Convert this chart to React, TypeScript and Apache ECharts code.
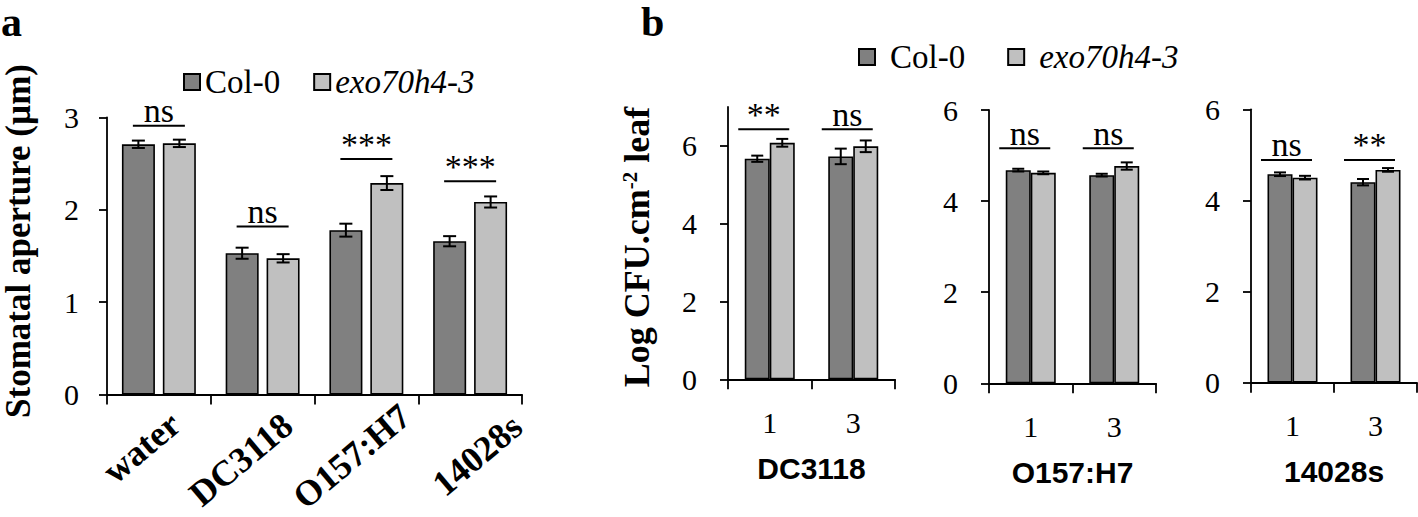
import React, { useEffect, useRef } from 'react';
import * as echarts from 'echarts';

// ---------- data ----------
const seriesNames = ['Col-0', 'exo70h4-3'];

// panel a
const categoriesA = ['water', 'DC3118', 'O157:H7', '14028s'];
const colA = [2.71, 1.53, 1.78, 1.66];
const colAErr = [0.04, 0.06, 0.07, 0.055];
const exoA = [2.72, 1.475, 2.29, 2.085];
const exoAErr = [0.04, 0.045, 0.075, 0.06];
const sigALabels = ['ns', 'ns', '***', '***'];
const sigALevels = [2.91, 1.82, 2.55, 2.31];
const ticksA = [0, 1, 2, 3];

// panel b
const days = ['1', '3'];
const strains = ['DC3118', 'O157:H7', '14028s'];
const ticksB = [0, 2, 4, 6];
const yMaxB = [7, 6, 6];

const colDC3118 = [5.67, 5.73];
const colDC3118Err = [0.08, 0.2];
const exoDC3118 = [6.08, 5.99];
const exoDC3118Err = [0.1, 0.15];
const sigDC3118 = ['**', 'ns'];
const sigDC3118Levels = [6.43, 6.43];

const colO157 = [4.68, 4.57];
const colO157Err = [0.03, 0.03];
const exoO157 = [4.62, 4.77];
const exoO157Err = [0.03, 0.08];
const sigO157 = ['ns', 'ns'];
const sigO157Levels = [5.16, 5.16];

const col14028s = [4.575, 4.4];
const col14028sErr = [0.04, 0.07];
const exo14028s = [4.5, 4.67];
const exo14028sErr = [0.04, 0.04];
const sig14028s = ['ns', '**'];
const sig14028sLevels = [4.89, 4.89];

const colB = [colDC3118, colO157, col14028s];
const colBErr = [colDC3118Err, colO157Err, col14028sErr];
const exoB = [exoDC3118, exoO157, exo14028s];
const exoBErr = [exoDC3118Err, exoO157Err, exo14028sErr];
const sigB = [sigDC3118, sigO157, sig14028s];
const sigBLevels = [sigDC3118Levels, sigO157Levels, sig14028sLevels];

// ---------- styles ----------
const SERIF = 'Liberation Serif';
const SANS = 'Liberation Sans';
const DARK = '#808080';
const LIGHT = '#c0c0c0';

function errRender(offset: number, cap: number) {
  return (params: any, api: any) => {
    const i = api.value(0);
    const v = api.value(1);
    const e = api.value(2);
    const top = api.coord([i, v + e]);
    const bot = api.coord([i, v - e]);
    const x = top[0] + offset;
    const style = { stroke: '#000', lineWidth: 2, fill: null };
    return {
      type: 'group',
      children: [
        { type: 'line', shape: { x1: x, y1: top[1], x2: x, y2: bot[1] }, style },
        { type: 'line', shape: { x1: x - cap / 2, y1: top[1], x2: x + cap / 2, y2: top[1] }, style },
        { type: 'line', shape: { x1: x - cap / 2, y1: bot[1], x2: x + cap / 2, y2: bot[1] }, style },
      ],
    };
  };
}

function sigRender(labels: string[], halfWidth: number, shift: number, fontSize: number) {
  return (params: any, api: any) => {
    const p = api.coord([api.value(0), api.value(1)]);
    const cx = p[0] + shift;
    return {
      type: 'group',
      children: [
        {
          type: 'line',
          shape: { x1: cx - halfWidth, y1: p[1], x2: cx + halfWidth, y2: p[1] },
          style: { stroke: '#000', lineWidth: 2 },
        },
        {
          type: 'text',
          x: cx,
          y: p[1] + 2,
          style: {
            text: labels[params.dataIndex],
            align: 'center',
            verticalAlign: 'bottom',
            fontSize,
            fontFamily: SERIF,
            fill: '#000',
          },
        },
      ],
    };
  };
}

const axisLineStyle = { color: '#000', width: 1.8 };

// per-label placement tweaks for the rotated category labels of panel a
const labelFont = { fontFamily: SERIF, fontWeight: 'bold', fontSize: 36, color: '#000' };
const labelRich: any = {
  r0: { ...labelFont, lineHeight: 65, padding: [0, 6, 0, 0] },
  r1: { ...labelFont, lineHeight: 78, padding: [0, 0, 0, 0] },
  r2: { ...labelFont, lineHeight: 82, padding: [0, -16.5, 0, 0] },
  r3: { ...labelFont, lineHeight: 108, padding: [0, -16, 0, 0] },
};

export default function App() {
  const ref = useRef<HTMLDivElement>(null);

  useEffect(() => {
    if (!ref.current) return;
    const chart = echarts.init(ref.current, null, { renderer: 'svg' });

    const gridBase = { containLabel: false, outerBoundsMode: 'none' };
    const grids: any[] = [
      { ...gridBase, left: 107, top: 117.5, width: 415, height: 277 },
      { ...gridBase, left: 728, top: 107, width: 167, height: 272.3 },
      { ...gridBase, left: 989, top: 110, width: 167, height: 273.3 },
      { ...gridBase, left: 1251, top: 109.3, width: 166, height: 273.4 },
    ];

    const xAxes: any[] = [
      {
        type: 'category',
        gridIndex: 0,
        data: categoriesA,
        axisLine: { lineStyle: axisLineStyle },
        axisTick: { show: true, length: 10, lineStyle: axisLineStyle },
        axisLabel: {
          interval: 0,
          rotate: 40,
          margin: -4,
          align: 'right',
          verticalAlign: 'top',
          lineHeight: 78,
          ...labelFont,
          rich: labelRich,
          formatter: (value: string, index: number) => `{r${index}|${value}}`,
        },
      },
    ];
    const yAxes: any[] = [
      {
        type: 'value',
        gridIndex: 0,
        min: 0,
        max: 3,
        interval: 1,
        axisLine: { show: true, lineStyle: axisLineStyle },
        axisTick: { show: true, length: 8, lineStyle: axisLineStyle },
        splitLine: { show: false },
        axisLabel: {
          margin: 28,
          color: '#000',
          fontFamily: SERIF,
          fontSize: 30,
          customValues: ticksA,
        },
      },
    ];

    strains.forEach((s, k) => {
      xAxes.push({
        type: 'category',
        gridIndex: k + 1,
        data: days,
        name: s,
        nameLocation: 'middle',
        nameGap: 74,
        nameTextStyle: { color: '#000', fontFamily: SANS, fontWeight: 'bold', fontSize: 30 },
        axisLine: { lineStyle: axisLineStyle },
        axisTick: { show: true, length: 10, lineStyle: axisLineStyle },
        axisLabel: { interval: 0, margin: 28, color: '#000', fontFamily: SERIF, fontSize: 30 },
      });
      yAxes.push({
        type: 'value',
        gridIndex: k + 1,
        min: 0,
        max: yMaxB[k],
        axisLine: { show: true, lineStyle: axisLineStyle },
        axisTick: { show: true, length: 8, lineStyle: axisLineStyle, customValues: ticksB },
        splitLine: { show: false },
        axisLabel: {
          margin: 31,
          color: '#000',
          fontFamily: SERIF,
          fontSize: 30,
          customValues: ticksB,
        },
      });
    });

    const barStyle = (c: string) => ({ color: c, borderColor: '#000', borderWidth: 1.6 });

    const series: any[] = [
      {
        name: seriesNames[0],
        type: 'bar',
        xAxisIndex: 0,
        yAxisIndex: 0,
        data: colA,
        barWidth: 33,
        barGap: '24%',
        itemStyle: barStyle(DARK),
      },
      {
        name: seriesNames[1],
        type: 'bar',
        xAxisIndex: 0,
        yAxisIndex: 0,
        data: exoA,
        barWidth: 33,
        barGap: '24%',
        itemStyle: barStyle(LIGHT),
      },
      {
        type: 'custom',
        xAxisIndex: 0,
        yAxisIndex: 0,
        renderItem: errRender(-20.5, 13),
        data: colA.map((v, i) => [i, v, colAErr[i]]),
        encode: { x: 0, y: 1 },
        z: 5,
      },
      {
        type: 'custom',
        xAxisIndex: 0,
        yAxisIndex: 0,
        renderItem: errRender(20.5, 13),
        data: exoA.map((v, i) => [i, v, exoAErr[i]]),
        encode: { x: 0, y: 1 },
        z: 5,
      },
      {
        type: 'custom',
        xAxisIndex: 0,
        yAxisIndex: 0,
        renderItem: sigRender(sigALabels, 26, 0, 34),
        data: sigALevels.map((v, i) => [i, v]),
        encode: { x: 0, y: 1 },
        z: 5,
      },
    ];

    strains.forEach((s, k) => {
      const ax = k + 1;
      series.push(
        {
          name: seriesNames[0],
          type: 'bar',
          xAxisIndex: ax,
          yAxisIndex: ax,
          data: colB[k],
          barWidth: 25,
          barGap: '0%',
          itemStyle: barStyle(DARK),
        },
        {
          name: seriesNames[1],
          type: 'bar',
          xAxisIndex: ax,
          yAxisIndex: ax,
          data: exoB[k],
          barWidth: 25,
          barGap: '0%',
          itemStyle: barStyle(LIGHT),
        },
        {
          type: 'custom',
          xAxisIndex: ax,
          yAxisIndex: ax,
          renderItem: errRender(-12.5, 12),
          data: colB[k].map((v, i) => [i, v, colBErr[k][i]]),
          encode: { x: 0, y: 1 },
          z: 5,
        },
        {
          type: 'custom',
          xAxisIndex: ax,
          yAxisIndex: ax,
          renderItem: errRender(12.5, 12),
          data: exoB[k].map((v, i) => [i, v, exoBErr[k][i]]),
          encode: { x: 0, y: 1 },
          z: 5,
        },
        {
          type: 'custom',
          xAxisIndex: ax,
          yAxisIndex: ax,
          renderItem: sigRender(sigB[k], 25.5, -6, 34),
          data: sigBLevels[k].map((v, i) => [i, v]),
          encode: { x: 0, y: 1 },
          z: 5,
        }
      );
    });

    const legendText = (padLeft: number) => ({
      color: '#000',
      fontFamily: SERIF,
      fontSize: 33,
      lineHeight: 33,
      padding: [0, 0, 0, padLeft],
      rich: {
        i: { fontFamily: SERIF, fontSize: 33, lineHeight: 33, fontStyle: 'italic', color: '#000' },
      },
    });
    const legendFormatter = (name: string) => (name === seriesNames[1] ? `{i|${name}}` : name);

    const option: any = {
      animation: false,
      backgroundColor: '#fff',
      grid: grids,
      xAxis: xAxes,
      yAxis: yAxes,
      legend: [
        {
          data: seriesNames,
          left: 183,
          top: 65.5,
          padding: 0,
          itemWidth: 16,
          itemHeight: 16,
          itemGap: 33,
          icon: 'rect',
          textStyle: legendText(0),
          formatter: legendFormatter,
          selectedMode: false,
        },
        {
          data: seriesNames,
          left: 858,
          top: 40.5,
          padding: 0,
          itemWidth: 16,
          itemHeight: 16,
          itemGap: 42,
          icon: 'rect',
          textStyle: legendText(10),
          formatter: legendFormatter,
          selectedMode: false,
        },
      ],
      graphic: [
        {
          type: 'text',
          x: 1,
          y: 1,
          style: {
            text: 'a',
            fontFamily: SERIF,
            fontWeight: 'bold',
            fontSize: 42,
            lineHeight: 42,
            fill: '#000',
            verticalAlign: 'top',
          },
        },
        {
          type: 'text',
          x: 641,
          y: 1,
          style: {
            text: 'b',
            fontFamily: SERIF,
            fontWeight: 'bold',
            fontSize: 42,
            lineHeight: 42,
            fill: '#000',
            verticalAlign: 'top',
          },
        },
        {
          type: 'text',
          x: 18,
          y: 241,
          rotation: Math.PI / 2,
          style: {
            text: 'Stomatal aperture (µm)',
            fontFamily: SERIF,
            fontWeight: 'bold',
            fontSize: 35,
            fill: '#000',
            align: 'center',
            verticalAlign: 'middle',
          },
        },
        {
          type: 'text',
          x: 637,
          y: 247,
          rotation: Math.PI / 2,
          style: {
            text: 'Log CFU.cm{sup|-2} leaf',
            fontFamily: SERIF,
            fontWeight: 'bold',
            fontSize: 36,
            fill: '#000',
            align: 'center',
            verticalAlign: 'middle',
            rich: {
              sup: { fontFamily: SERIF, fontWeight: 'bold', fontSize: 21, verticalAlign: 'top', fill: '#000' },
            },
          },
        },
      ],
      series,
    };

    chart.setOption(option);
    return () => chart.dispose();
  }, []);

  return (
    <div
      ref={ref}
      style={{ position: 'absolute', left: 0, top: 0, width: 1418, height: 517 }}
    />
  );
}
